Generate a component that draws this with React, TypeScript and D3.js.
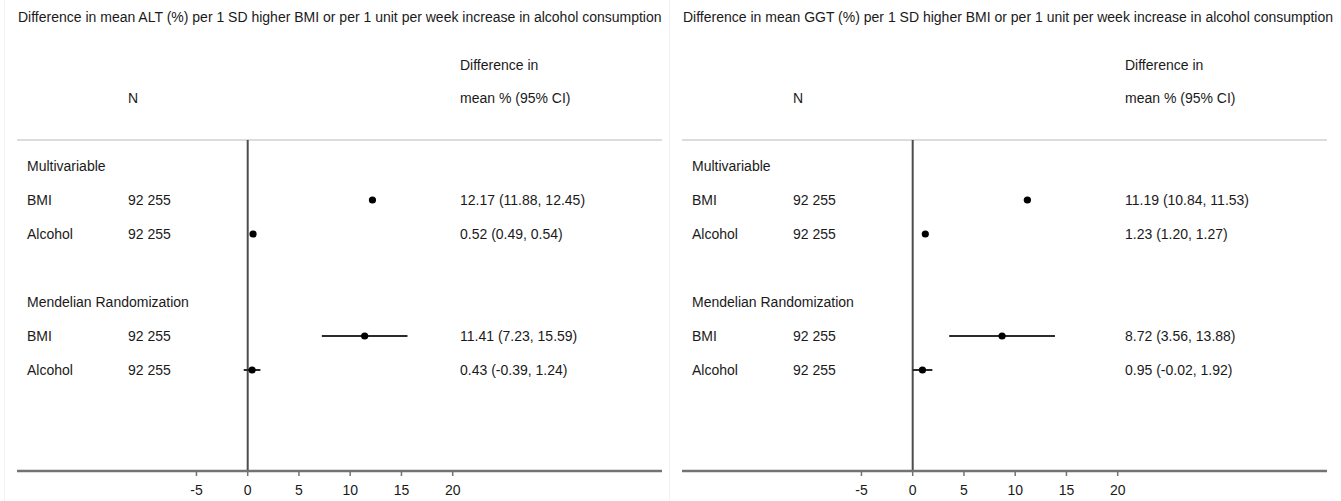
import React from "react";
import * as d3 from "d3";

// Row labels shown in the left-hand column of each forest plot
const rowLabels = ["Multivariable", "BMI", "Alcohol", "", "Mendelian Randomization", "BMI", "Alcohol"];
const rowIsHeader = [true, false, false, false, true, false, false];
const rowN = ["", "92 255", "92 255", "", "", "92 255", "92 255"];

// ALT estimates (% difference) with 95% CI
const altEst = [null, 12.17, 0.52, null, null, 11.41, 0.43];
const altLo = [null, 11.88, 0.49, null, null, 7.23, -0.39];
const altHi = [null, 12.45, 0.54, null, null, 15.59, 1.24];

// GGT estimates (% difference) with 95% CI
const ggtEst = [null, 11.19, 1.23, null, null, 8.72, 0.95];
const ggtLo = [null, 10.84, 1.2, null, null, 3.56, -0.02];
const ggtHi = [null, 11.53, 1.27, null, null, 13.88, 1.92];

const xTicks = [-5, 0, 5, 10, 15, 20];

const panelTitles = [
  "Difference in mean ALT (%) per 1 SD higher BMI or per 1 unit per week increase in alcohol consumption",
  "Difference in mean GGT (%) per 1 SD higher BMI or per 1 unit per week increase in alcohol consumption",
];

const FONT = "'Liberation Sans', Arial, Helvetica, sans-serif";
const W = 1341;
const H = 501;

const fmt = (v: number) => v.toFixed(2);

type PanelProps = {
  title: string;
  est: (number | null)[];
  lo: (number | null)[];
  hi: (number | null)[];
  offsetX: number;
};

function Panel({ title, est, lo, hi, offsetX }: PanelProps) {
  // 1 unit = ~10.25 px, zero placed at 247.7 within the panel
  const x = d3.scaleLinear().domain([-5, 20]).range([196.45, 452.7]);
  const y = d3.scaleLinear().domain([0, 1]).range([166, 200]);
  const axisY = 471;
  const ruleY = 140;
  const lineX0 = 17;
  const lineX1 = 662;
  const colLabel = 27;
  const colN = 128;
  const colVal = 460;
  const text = "#1a1a1a";

  return (
    <g transform={`translate(${offsetX},0)`} fontFamily={FONT} fontSize={14} fill={text}>
      <text x={18} y={22}>{title}</text>
      <text x={colVal} y={70}>Difference in</text>
      <text x={colN} y={103}>N</text>
      <text x={colVal} y={103}>mean % (95% CI)</text>

      <line x1={lineX0} x2={lineX1} y1={ruleY} y2={ruleY} stroke="#dcdcdc" strokeWidth={2} />

      {rowLabels.map((lab, i) => (
        <g key={i}>
          {lab && (
            <text x={colLabel} y={y(i) + 5}>{lab}</text>
          )}
          {rowN[i] && (
            <text x={colN} y={y(i) + 5}>{rowN[i]}</text>
          )}
          {!rowIsHeader[i] && est[i] != null && (
            <text x={colVal} y={y(i) + 5}>
              {`${fmt(est[i] as number)} (${fmt(lo[i] as number)}, ${fmt(hi[i] as number)})`}
            </text>
          )}
        </g>
      ))}

      <line x1={x(0)} x2={x(0)} y1={ruleY} y2={axisY} stroke="#4d4d4d" strokeWidth={2} />

      {est.map((e, i) =>
        e == null ? null : (
          <g key={`m${i}`}>
            <line
              x1={x(lo[i] as number)}
              x2={x(hi[i] as number)}
              y1={y(i)}
              y2={y(i)}
              stroke="#2b2b2b"
              strokeWidth={2}
            />
            <circle cx={x(e)} cy={y(i)} r={3.6} fill="#000" />
          </g>
        )
      )}

      <line x1={lineX0} x2={lineX1} y1={axisY} y2={axisY} stroke="#737373" strokeWidth={2.5} />
      {xTicks.map((t) => (
        <g key={t}>
          <line x1={x(t)} x2={x(t)} y1={axisY} y2={axisY + 5} stroke="#737373" strokeWidth={1.5} />
          <text x={x(t)} y={495} textAnchor="middle">{t}</text>
        </g>
      ))}
    </g>
  );
}

export default function App() {
  return (
    <svg
      width={W}
      height={H}
      style={{ position: "absolute", left: 0, top: 0, background: "#fff" }}
    >
      <rect width={W} height={H} fill="#fff" />
      <line x1={4.5} x2={4.5} y1={0} y2={H} stroke="#f2f2f2" strokeWidth={1} />
      <line x1={669.5} x2={669.5} y1={0} y2={H} stroke="#f2f2f2" strokeWidth={1} />
      <Panel title={panelTitles[0]} est={altEst} lo={altLo} hi={altHi} offsetX={0} />
      <Panel title={panelTitles[1]} est={ggtEst} lo={ggtLo} hi={ggtHi} offsetX={665} />
    </svg>
  );
}
